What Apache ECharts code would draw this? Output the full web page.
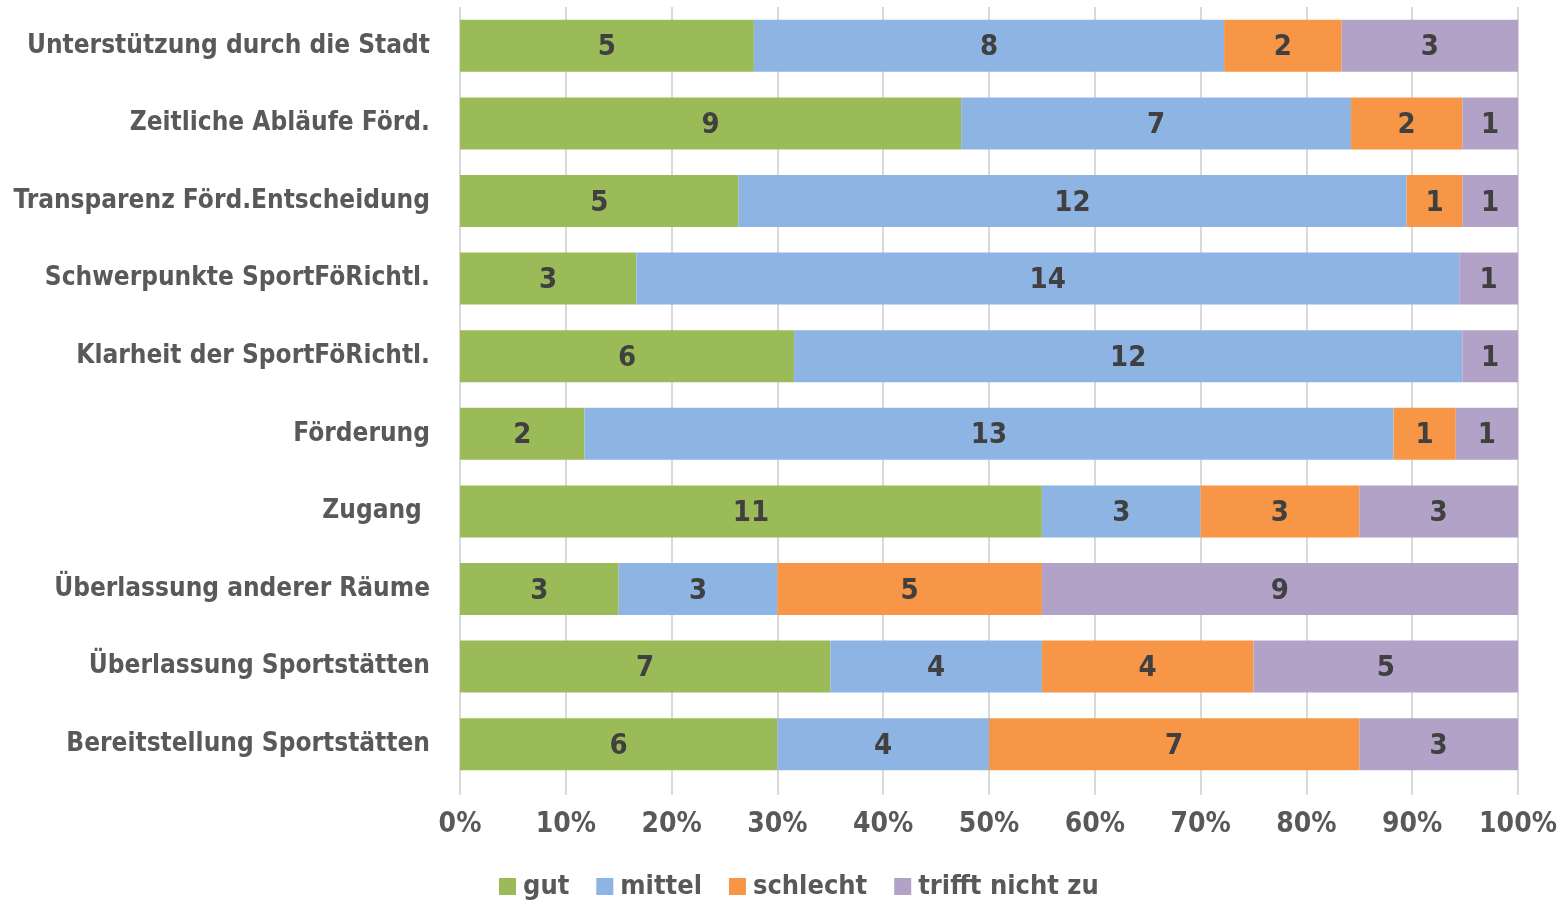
<!DOCTYPE html>
<html>
<head>
<meta charset="utf-8">
<script src="https://cdn.jsdelivr.net/npm/echarts@6/dist/echarts.min.js"></script>
<style>
html,body{margin:0;padding:0;background:#fff;}
#chart{width:1567px;height:902px;}
</style>
</head>
<body>
<div id="chart"></div>
<script>
var categories = [
	'Unterstützung durch die Stadt',
	'Zeitliche Abläufe Förd.',
	'Transparenz Förd.Entscheidung',
	'Schwerpunkte SportFöRichtl.',
	'Klarheit der SportFöRichtl.',
	'Förderung',
	'Zugang ',
	'Überlassung anderer Räume',
	'Überlassung Sportstätten',
	'Bereitstellung Sportstätten'
];
var seriesNames = ['gut','mittel','schlecht','trifft nicht zu'];
var gut      = [5, 9, 5, 3, 6, 2, 11, 3, 7, 6];
var mittel   = [8, 7, 12, 14, 12, 13, 3, 3, 4, 4];
var schlecht = [2, 2, 1, 0, 0, 1, 3, 5, 4, 7];
var nichtZu  = [3, 1, 1, 1, 1, 1, 3, 9, 5, 3];
var colors = ['#9BBB59','#8EB4E3','#F79646','#B2A2C7'];

var FONT = '"DejaVu Sans Condensed", "DejaVu Sans", sans-serif';
var raw = [gut, mittel, schlecht, nichtZu];
var totals = categories.map(function(c,i){
	return gut[i] + mittel[i] + schlecht[i] + nichtZu[i];
});

var series = raw.map(function(arr,k){
	return {
		name: seriesNames[k],
		type: 'bar',
		stack: 'all',
		barCategoryGap: '33%',
		itemStyle: {color: colors[k]},
		label: {
			show: true,
			position: 'inside',
			offset: [0, 2],
			fontFamily: FONT,
			fontWeight: 'bold',
			fontSize: 29,
			color: '#404040',
			formatter: function(p){
				var v = arr[p.dataIndex];
				return v ? String(v) : '';
			}
		},
		data: arr.map(function(v,i){ return v / totals[i] * 100; })
	};
});

var chart = echarts.init(document.getElementById('chart'));
chart.setOption({
	animation: false,
	textStyle: {fontFamily: FONT},
	grid: {left: 460, right: 49, top: 7, bottom: 119, containLabel: false, outerBoundsMode: 'none'},
	legend: {
		bottom: -3,
		left: 494,
		itemWidth: 17,
		itemHeight: 17,
		itemGap: 27,
		icon: 'rect',
		textStyle: {fontFamily: FONT, fontWeight: 'bold', fontSize: 27, color: '#595959', padding: [0,0,0,2]},
		data: seriesNames
	},
	xAxis: {
		type: 'value',
		min: 0,
		max: 100,
		interval: 10,
		axisLine: {show: false},
		axisTick: {show: true, length: 12, lineStyle: {color: '#D9D9D9', width: 2}},
		splitLine: {show: true, lineStyle: {color: '#D9D9D9', width: 2}},
		axisLabel: {
			margin: 28,
			fontFamily: FONT,
			fontWeight: 'bold',
			fontSize: 28,
			color: '#595959',
			formatter: '{value}%'
		}
	},
	yAxis: {
		type: 'category',
		inverse: true,
		data: categories,
		axisLine: {show: false},
		axisTick: {show: false},
		axisLabel: {
			margin: 30,
			padding: [4, 0, 0, 0],
			fontFamily: FONT,
			fontWeight: 'bold',
			fontSize: 26,
			color: '#595959'
		}
	},
	series: series
});
</script>
</body>
</html>
